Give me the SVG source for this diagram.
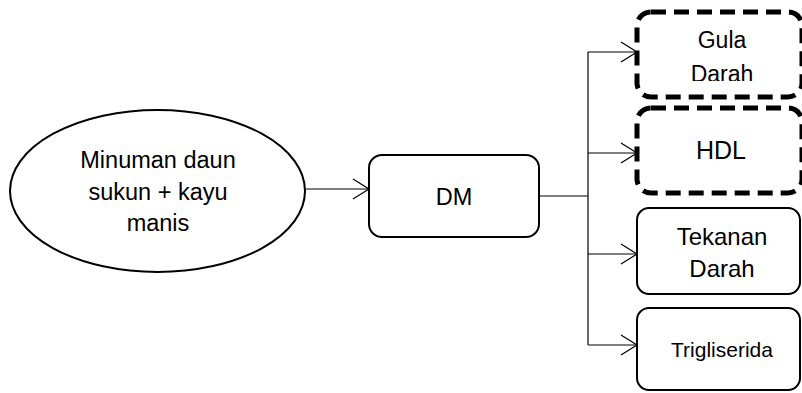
<svg xmlns="http://www.w3.org/2000/svg" width="802" height="393" viewBox="0 0 802 393">
<style>
.t{font-family:"Liberation Sans",Arial,sans-serif;fill:#000;text-anchor:middle}
.solid{fill:#fff;stroke:#000;stroke-width:2}
.dash{fill:#fff;stroke:#000;stroke-width:5;stroke-dasharray:15 8}
.c{fill:none;stroke:#000;stroke-width:1.2}
</style>
<defs>
<marker id="arr" markerUnits="userSpaceOnUse" markerWidth="20" markerHeight="24" refX="17" refY="11" orient="auto">
<path d="M1,1 L17,11 L1,21" fill="none" stroke="#000" stroke-width="1.2"/>
</marker>
<clipPath id="clipGula"><rect x="637" y="12" width="166" height="69"/></clipPath>
</defs>
<g id="connectors">
<line class="c" x1="306" y1="189" x2="369" y2="189" marker-end="url(#arr)"/>
<polyline class="c" points="539,196 588,196"/>
<line class="c" x1="588" y1="52" x2="588" y2="345"/>
<line class="c" x1="588" y1="52" x2="637" y2="52" marker-end="url(#arr)"/>
<line class="c" x1="588" y1="153" x2="637" y2="153" marker-end="url(#arr)"/>
<line class="c" x1="588" y1="254" x2="637" y2="254" marker-end="url(#arr)"/>
<line class="c" x1="588" y1="345" x2="637" y2="345" marker-end="url(#arr)"/>
</g>
<g id="node-minuman">
<ellipse class="solid" cx="157.5" cy="191" rx="147.5" ry="81"/>
<text class="t" font-size="23.5" x="158" y="168">Minuman daun</text>
<text class="t" font-size="23.5" x="158" y="200">sukun + kayu</text>
<text class="t" font-size="23.5" x="158" y="231">manis</text>
</g>
<g id="node-dm">
<rect class="solid" x="369" y="155" width="170" height="82" rx="13"/>
<text class="t" font-size="23.5" x="454" y="205">DM</text>
</g>
<g id="node-gula">
<rect class="dash" x="637" y="12" width="165" height="85" rx="14"/>
<g clip-path="url(#clipGula)">
<text class="t" font-size="23" x="722" y="48">Gula</text>
<text class="t" font-size="23" x="722" y="82">Darah</text>
</g>
</g>
<g id="node-hdl">
<rect class="dash" x="637" y="108" width="165" height="85" rx="14"/>
<text class="t" font-size="25" x="721" y="159">HDL</text>
</g>
<g id="node-tekanan">
<rect class="solid" x="637" y="208" width="163" height="86" rx="12"/>
<text class="t" font-size="24" x="722" y="245">Tekanan</text>
<text class="t" font-size="24" x="722" y="277">Darah</text>
</g>
<g id="node-trigliserida">
<rect class="solid" x="637" y="308" width="163" height="82" rx="12"/>
<text class="t" font-size="21" x="722" y="357">Trigliserida</text>
</g>
</svg>
